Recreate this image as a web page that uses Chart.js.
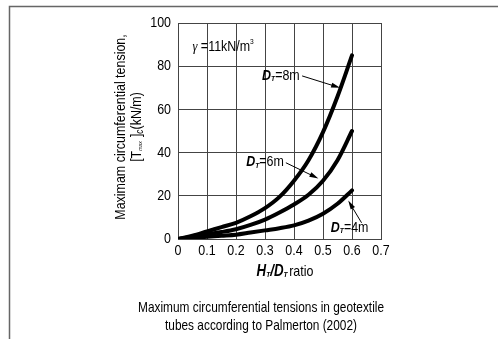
<!DOCTYPE html>
<html>
<head>
<meta charset="utf-8">
<script src="https://cdn.jsdelivr.net/npm/chart.js@4.4.1/dist/chart.umd.min.js"></script>
<style>
  html, body { margin: 0; padding: 0; background: #fff; }
  #wrap { width: 499px; height: 339px; position: relative; }
</style>
</head>
<body>
<div id="wrap"><canvas id="chart"></canvas></div>
<script>
// Données (Palmerton 2002)
const hRatio = [0, 0.05, 0.1, 0.15, 0.2, 0.25, 0.3, 0.35, 0.4, 0.45, 0.5, 0.55, 0.6];
const tension8m = [0, 1.5, 3.5, 5.5, 7.5, 10.5, 14.3, 19.5, 27, 36.5, 49.5, 66, 85];
const tension6m = [0, 1, 2.2, 3.2, 4.5, 6.5, 9, 12.3, 16, 20.5, 27, 36.5, 50];
const tension4m = [0, 0.5, 1, 1.5, 2, 3, 4, 5, 6.3, 8.5, 11.7, 16.3, 22.5];
const xTicks = [0, 0.1, 0.2, 0.3, 0.4, 0.5, 0.6, 0.7];
const yTicks = [0, 20, 40, 60, 80, 100];

const FAM = "'Liberation Sans', Arial, sans-serif";
const SX = 0.83; // écrasement horizontal pour imiter une police étroite

function pts(ys) {
    return hRatio.map((x, i) => ({ x: x, y: ys[i] }));
}

// dessine un texte composé de morceaux (indices, gras, italique), condensé
function richText(ctx, segs, x, y, align) {
    let w = 0;
    segs.forEach(s => { ctx.font = s.font; w += ctx.measureText(s.t).width + (s.gap || 0); });
    const start = align === 'center' ? -w / 2 : (align === 'right' ? -w : 0);
    ctx.save();
    ctx.translate(x, y);
    ctx.scale(SX, 1);
    ctx.textBaseline = 'middle';
    ctx.textAlign = 'left';
    let cx = start;
    segs.forEach(s => {
        ctx.font = s.font;
        ctx.fillText(s.t, cx, s.dy || 0);
        cx += ctx.measureText(s.t).width + (s.gap || 0);
    });
    ctx.restore();
}

function arrow(ctx, x1, y1, x2, y2) {
    const a = Math.atan2(y2 - y1, x2 - x1);
    ctx.beginPath();
    ctx.moveTo(x1, y1);
    ctx.lineTo(x2 - 6 * Math.cos(a), y2 - 6 * Math.sin(a));
    ctx.stroke();
    ctx.beginPath();
    ctx.moveTo(x2, y2);
    ctx.lineTo(x2 - 9 * Math.cos(a) + 2.5 * Math.sin(a), y2 - 9 * Math.sin(a) - 2.5 * Math.cos(a));
    ctx.lineTo(x2 - 9 * Math.cos(a) - 2.5 * Math.sin(a), y2 - 9 * Math.sin(a) + 2.5 * Math.cos(a));
    ctx.closePath();
    ctx.fill();
}

function dLabel(d) {
    return [
        { t: 'D', font: "bold italic 15px " + FAM },
        { t: 'T', font: "bold italic 8px " + FAM, dy: 3 },
        { t: '=' + d + 'm', font: "15px " + FAM }
    ];
}

const decorPlugin = {
    id: 'decor',
    beforeDraw(chart) {
        const ctx = chart.ctx;
        ctx.save();
        ctx.fillStyle = '#fff';
        ctx.fillRect(0, 0, chart.width, chart.height);
        ctx.strokeStyle = '#666';
        ctx.lineWidth = 1.5;
        ctx.beginPath();
        ctx.moveTo(9.5, chart.height);
        ctx.lineTo(9.5, 6.5);
        ctx.lineTo(498, 6.5);
        ctx.stroke();
        ctx.restore();
    },
    afterDatasetsDraw(chart) {
        const ctx = chart.ctx;
        const xs = chart.scales.x, ys = chart.scales.y;
        const px = v => xs.getPixelForValue(v);
        const py = v => ys.getPixelForValue(v);
        ctx.save();
        ctx.fillStyle = '#000';
        ctx.strokeStyle = '#000';
        ctx.lineWidth = 1;

        // graduations
        xs.ticks.forEach(t => {
            richText(ctx, [{ t: String(t.value), font: "15px " + FAM }], px(t.value), ys.bottom + 12, 'center');
        });
        ys.ticks.forEach(t => {
            richText(ctx, [{ t: String(t.value), font: "15px " + FAM }], xs.left - 7, py(t.value), 'right');
        });

        // gamma
        richText(ctx, [
            { t: 'γ', font: "italic 15px 'Liberation Serif', serif" },
            { t: ' =11kN/m', font: "15px " + FAM },
            { t: '3', font: "8px " + FAM, dy: -5 }
        ], px(0.05), py(89), 'left');

        // étiquettes des courbes
        richText(ctx, dLabel(8), px(0.29), py(75.5), 'left');
        arrow(ctx, px(0.428), py(75.5), px(0.559), py(70));
        richText(ctx, dLabel(6), px(0.235), py(35.5), 'left');
        arrow(ctx, px(0.372), py(35.3), px(0.484), py(28));
        richText(ctx, dLabel(4), px(0.527), py(5), 'left');
        arrow(ctx, px(0.633), py(7.5), px(0.587), py(17.8));

        // titre axe x
        richText(ctx, [
            { t: 'H', font: "bold italic 16px " + FAM },
            { t: 'T', font: "bold italic 8px " + FAM, dy: 3 },
            { t: '/D', font: "bold italic 16px " + FAM },
            { t: 'T', font: "bold italic 8px " + FAM, dy: 3, gap: 2 },
            { t: 'ratio', font: "15px " + FAM }
        ], 285, 272, 'center');

        // titre axe y (tourné)
        ctx.save();
        ctx.translate(121, 127);
        ctx.rotate(-Math.PI / 2);
        richText(ctx, [{ t: 'Maximam circumferential tension,', font: "15px " + FAM }], 0, 0, 'center');
        richText(ctx, [
            { t: '[T', font: "15px " + FAM },
            { t: 'max', font: "italic 6px " + FAM, dy: 3, gap: 1 },
            { t: ' ]', font: "15px " + FAM },
            { t: 'c', font: "italic 10px " + FAM, dy: 3 },
            { t: '(kN/m)', font: "15px " + FAM }
        ], 0, 16, 'center');
        ctx.restore();

        // légende sous la figure
        richText(ctx, [{ t: 'Maximum circumferential tensions in geotextile', font: "14.3px " + FAM }], 261, 308, 'center');
        richText(ctx, [{ t: 'tubes according to Palmerton (2002)', font: "14.3px " + FAM }], 261, 326, 'center');
        ctx.restore();
    }
};

const lineStyle = {
    borderColor: '#000',
    borderWidth: 4,
    pointRadius: 0,
    fill: false,
    cubicInterpolationMode: 'monotone',
    borderCapStyle: 'round'
};

new Chart(document.getElementById('chart').getContext('2d'), {
    type: 'line',
    data: {
        datasets: [
            Object.assign({ label: 'DT=8m', data: pts(tension8m) }, lineStyle),
            Object.assign({ label: 'DT=6m', data: pts(tension6m) }, lineStyle),
            Object.assign({ label: 'DT=4m', data: pts(tension4m) }, lineStyle)
        ]
    },
    options: {
        responsive: true,
        maintainAspectRatio: false,
        animation: false,
        layout: { padding: { top: 23, right: 118, left: 0, bottom: 0 } },
        plugins: { legend: { display: false }, tooltip: { enabled: false } },
        scales: {
            x: {
                type: 'linear',
                min: 0,
                max: 0.7,
                afterBuildTicks: s => { s.ticks = xTicks.map(v => ({ value: v })); },
                afterFit: s => { s.height = 100; },
                ticks: { display: false },
                grid: { color: '#444', lineWidth: 1, drawTicks: false },
                border: { color: '#444', width: 1 }
            },
            y: {
                min: 0,
                max: 100,
                afterBuildTicks: s => { s.ticks = yTicks.map(v => ({ value: v })); },
                afterFit: s => { s.width = 178; },
                ticks: { display: false },
                grid: { color: '#444', lineWidth: 1, drawTicks: false },
                border: { color: '#444', width: 1 }
            }
        }
    },
    plugins: [decorPlugin]
});
</script>
</body>
</html>
